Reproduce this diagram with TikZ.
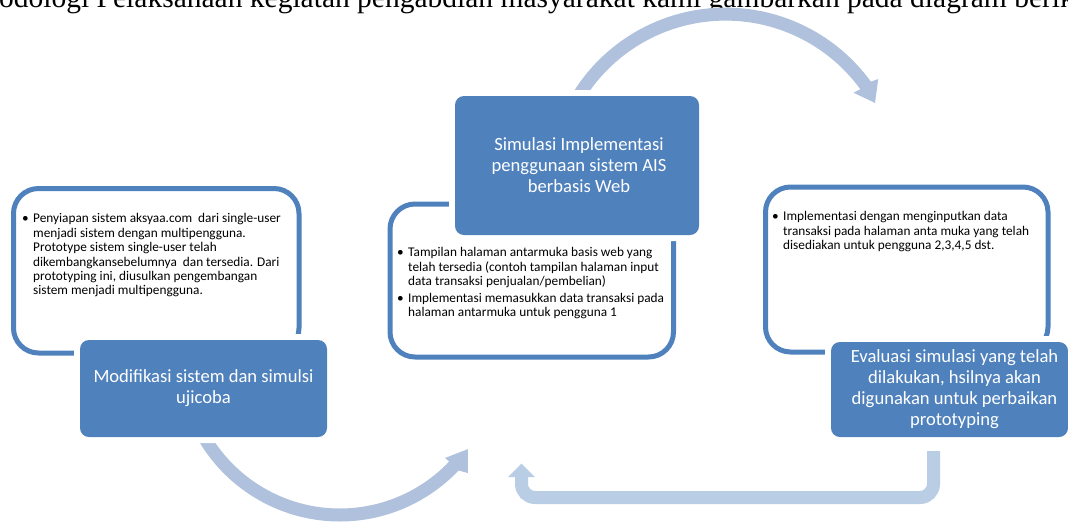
\documentclass[tikz,border=0pt]{standalone}
\usepackage{fontspec}
\setmainfont{Carlito}
\newfontfamily\serifpara{Liberation Serif}
\definecolor{accent}{HTML}{4F81BD}
\definecolor{arcblue}{HTML}{AFC1DC}
\definecolor{ublue}{HTML}{B9CDE5}
\tikzset{
  outlinebox/.style={draw=accent, line width=5pt, rounded corners=25pt},
  darkbox/.style={fill=accent, rounded corners=9pt,
    preaction={draw=white, line width=12pt, rounded corners=9pt},
    inner sep=0pt},
  darktext/.style={text=white, font=\fontsize{18.6}{21}\selectfont, align=center, inner sep=0pt},
  bodytext/.style={font=\fontsize{13.3}{14.4}\selectfont, inner sep=0pt, anchor=north west},
  titletext/.style={font=\serifpara\fontsize{29.5}{32}\selectfont, inner sep=0pt, anchor=base west}
}
\begin{document}
\begin{tikzpicture}[x=1pt,y=1pt]
\useasboundingbox (0,0) rectangle (1068,-523);
\clip (0,0) rectangle (1068,-523);

% cut-off heading line at the top
\node[titletext] (title) at (-1,-7.5) {odologi Pelaksanaan kegiatan pengabdian masyarakat kami gambarkan pada diagram berik};

% circular arrows (drawn first, partly hidden by the boxes)
\begin{scope}[shift={(725.6,-187.1)}]
  \coordinate (topc) at (0,0);
  \fill[arcblue] (150:179.5pt) arc[start angle=150, end angle=36, radius=179.5pt]
     -- (35.3:187pt) -- (29.4:171.5pt) -- (36.4:159pt) -- (36:166.5pt)
     arc[start angle=36, end angle=150, radius=166.5pt] -- cycle;
\end{scope}
\begin{scope}[shift={(339.8,-357.7)}]
  \coordinate (botc) at (0,0);
  \fill[arcblue] (205:163.8pt) arc[start angle=205, end angle=316.5, radius=163.8pt]
     -- (318:172.4pt) -- (324.5:157.4pt) -- (316.4:145.4pt) -- (316.5:150.8pt)
     arc[start angle=316.5, end angle=205, radius=150.8pt] -- cycle;
\end{scope}
\coordinate (ustart) at (933.5,-451);
\coordinate (uend) at (521.5,-477);
\draw[ublue, line width=13pt, rounded corners=13.5pt] (ustart) -- (933.5,-497.5) -- (521.5,-497.5) -- (uend);
\fill[ublue] (508,-477) -- (521.5,-463.5) -- (535,-477) -- cycle;

% outline boxes
\draw[outlinebox] (13.5,-188.5) rectangle (299,-353);
\draw[outlinebox] (390,-204) rectangle (673.5,-357);
\draw[outlinebox] (765.5,-187) rectangle (1048,-352);

% bullet texts
\node[bodytext] (lefttext) at (22,-212.6) {\begin{tabular}{@{}p{11pt}@{}l@{}}
\textbullet & Penyiapan sistem aksyaa.com\ \ dari single-user\\
 & menjadi sistem dengan multipengguna.\\
 & Prototype sistem single-user telah\\
 & dikembangkansebelumnya\ \ dan tersedia. Dari\\
 & prototyping ini, diusulkan pengembangan\\
 & sistem menjadi multipengguna.
\end{tabular}};
\node[bodytext] (midtext) at (397,-246.6) {\begin{tabular}{@{}p{11pt}@{}l@{}}
\textbullet & Tampilan halaman antarmuka basis web yang\\
 & telah tersedia (contoh tampilan halaman input\\
 & data transaksi penjualan/pembelian)\\[2.4pt]
\textbullet & Implementasi memasukkan data transaksi pada\\
 & halaman antarmuka untuk pengguna 1
\end{tabular}};
\node[bodytext] (righttext) at (772,-210.6) {\begin{tabular}{@{}p{11pt}@{}l@{}}
\textbullet & Implementasi dengan menginputkan data\\
 & transaksi pada halaman anta muka yang telah\\
 & disediakan untuk pengguna 2,3,4,5 dst.
\end{tabular}};

% dark title boxes
\node[darkbox, minimum width=247pt, minimum height=97pt] (modif) at (203.5,-388.5) {};
\node[darktext] (modiftext) at (modif.center) {Modifikasi sistem dan simulsi\\ujicoba};

\node[darkbox, minimum width=244pt, minimum height=139pt] (simul) at (577,-165.5) {};
\node[darktext] (simultext) at ([xshift=2pt]simul.center) {Simulasi Implementasi\\penggunaan sistem AIS\\berbasis Web};

\node[darkbox, minimum width=237pt, minimum height=95pt] (eval) at (949.5,-389.5) {};
\node[darktext] (evaltext) at ([xshift=5pt]eval.center) {Evaluasi simulasi yang telah\\dilakukan, hsilnya akan\\digunakan untuk perbaikan\\prototyping};
\end{tikzpicture}
\end{document}
